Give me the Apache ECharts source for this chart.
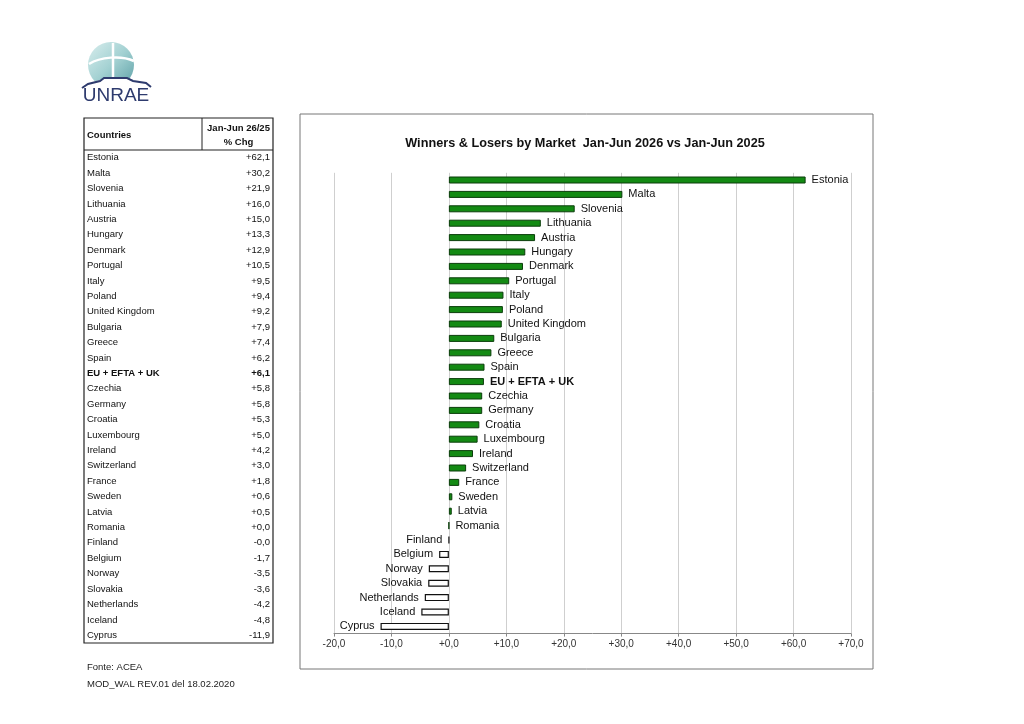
<!DOCTYPE html>
<html><head><meta charset="utf-8">
<script src="https://cdn.jsdelivr.net/npm/echarts@6/dist/echarts.min.js"></script>
<style>html,body{margin:0;padding:0;background:#fff}#c{width:1024px;height:724px}</style>
</head><body><div id="c"></div>
<script>
const countries = ["Estonia","Malta","Slovenia","Lithuania","Austria","Hungary","Denmark","Portugal","Italy","Poland","United Kingdom","Bulgaria","Greece","Spain","EU + EFTA + UK","Czechia","Germany","Croatia","Luxembourg","Ireland","Switzerland","France","Sweden","Latvia","Romania","Finland","Belgium","Norway","Slovakia","Netherlands","Iceland","Cyprus"];
const changes = [62.1,30.2,21.9,16.0,15.0,13.3,12.9,10.5,9.5,9.4,9.2,7.9,7.4,6.2,6.1,5.8,5.8,5.3,5.0,4.2,3.0,1.8,0.6,0.5,0.0,-0.0,-1.7,-3.5,-3.6,-4.2,-4.8,-11.9];
const totalLabel = "EU + EFTA + UK";
const axisMin = -20, axisMax = 70, axisStep = 10;
const titleText = "Winners & Losers by Market  Jan-Jun 2026 vs Jan-Jun 2025";
const tableHeaders = ["Countries", "Jan-Jun 26/25", "% Chg"];
const footerLines = ["Fonte: ACEA", "MOD_WAL REV.01 del 18.02.2020"];

const FONT = "Liberation Sans, Arial, sans-serif";
function isNeg(v){ return v < 0 || Object.is(v, -0); }
function fmt(v){ return (isNeg(v) ? '-' : '+') + Math.abs(v).toFixed(1).replace('.', ','); }

const chart = echarts.init(document.getElementById('c'), null, {renderer:'canvas'});

const g = [];
const tx = 84, ty = 118, tw = 189, th = 525, hh = 32, colX = 202;
const rowH = (th - hh) / countries.length;
g.push({type:'rect', shape:{x:tx,y:ty,width:tw,height:th}, style:{fill:'#fff', stroke:'#222', lineWidth:1.2}});
g.push({type:'line', shape:{x1:tx,y1:ty+hh,x2:tx+tw,y2:ty+hh}, style:{stroke:'#222', lineWidth:1.2}});
g.push({type:'line', shape:{x1:colX,y1:ty,x2:colX,y2:ty+hh}, style:{stroke:'#222', lineWidth:1}});
g.push({type:'text', x:tx+3, y:ty+hh/2+1, style:{text:tableHeaders[0], font:'bold 9.5px '+FONT, fill:'#111', verticalAlign:'middle'}});
g.push({type:'text', x:(colX+tx+tw)/2+1, y:ty+10.5, style:{text:tableHeaders[1], font:'bold 9.5px '+FONT, fill:'#111', align:'center', verticalAlign:'middle'}});
g.push({type:'text', x:(colX+tx+tw)/2+1, y:ty+24, style:{text:tableHeaders[2], font:'bold 9.5px '+FONT, fill:'#111', align:'center', verticalAlign:'middle'}});
countries.forEach((c,i)=>{
  const y = ty + hh + rowH*(i+0.5);
  const bold = c === totalLabel;
  g.push({type:'text', x:tx+3, y:y, style:{text:c, font:(bold?'bold ':'')+'9.5px '+FONT, fill:'#111', verticalAlign:'middle'}});
  g.push({type:'text', x:tx+tw-3, y:y, style:{text:fmt(changes[i]), font:(bold?'bold ':'')+'9.5px '+FONT, fill:'#111', align:'right', verticalAlign:'middle'}});
});
footerLines.forEach((t,i)=>{
  g.push({type:'text', x:87, y:667+i*17, style:{text:t, font:'9.5px '+FONT, fill:'#222', verticalAlign:'middle'}});
});
g.push({type:'rect', z:-1, shape:{x:300,y:114,width:573,height:555}, style:{fill:'#fff', stroke:'#777', lineWidth:1}});
// logo
g.push({type:'circle', shape:{cx:111,cy:65,r:23}, style:{fill:new echarts.graphic.LinearGradient(0,0,1,1,[{offset:0,color:'#d9eeee'},{offset:0.5,color:'#a3d1d2'},{offset:1,color:'#5b9fa5'}])}});
g.push({type:'line', shape:{x1:113,y1:43,x2:113,y2:80}, style:{stroke:'#fff', lineWidth:2.5}});
g.push({type:'bezierCurve', shape:{x1:89,y1:64,x2:134,y2:61,cpx1:100,cpy1:57,cpx2:121,cpy2:55}, style:{stroke:'#fff', lineWidth:2.5, fill:null}});
g.push({type:'polygon', shape:{points:[[80,87],[88,83],[100,80],[104,78],[127,78],[133,81],[146,83],[154,87],[154,92],[80,92]]}, style:{fill:'#fff'}});
g.push({type:'polyline', shape:{points:[[82,88],[88,84],[100,81],[104,78],[127,78],[133,81],[146,83],[151,87]]}, style:{stroke:'#2e3b6e', lineWidth:2, fill:null}});
g.push({type:'text', x:116, y:96, style:{text:'UNRAE', font:'19px '+FONT, fill:'#2e3b6e', align:'center', verticalAlign:'middle'}});

const barData = changes.map((v,i)=>{
  const neg = isNeg(v);
  const bold = countries[i] === totalLabel;
  return {
    value: v,
    itemStyle: neg ? {color:'#ffffff', borderColor:'#111', borderWidth:1.2} : {color:'#138a13', borderColor:'#0b3d0b', borderWidth:1},
    label: {show:true, position: neg ? 'left' : 'right', distance:6, formatter: countries[i], fontFamily:FONT, fontSize:11, color:'#111', fontWeight: bold ? 'bold' : 'normal'}
  };
});

chart.setOption({
  animation:false,
  title:{text:titleText, left:580, top:132, textAlign:'center', textStyle:{fontFamily:FONT, fontSize:12.7, fontWeight:'bold', color:'#111'}},
  grid:{left:334, right:173, top:172.8, bottom:90.4},
  xAxis:{type:'value', min:axisMin, max:axisMax, interval:axisStep,
    axisLine:{show:true, lineStyle:{color:'#888'}}, axisTick:{show:true, length:3, lineStyle:{color:'#888'}},
    splitLine:{show:true, lineStyle:{color:'#cfcfcf'}},
    axisLabel:{formatter:v=>fmt(v), fontFamily:FONT, fontSize:10, color:'#333', margin:6}},
  yAxis:{type:'category', inverse:true, data:countries, axisLine:{show:false}, axisTick:{show:false}, axisLabel:{show:false}},
  series:[{type:'bar', data:barData, barWidth:7}],
  graphic:g
});
</script></body></html>
